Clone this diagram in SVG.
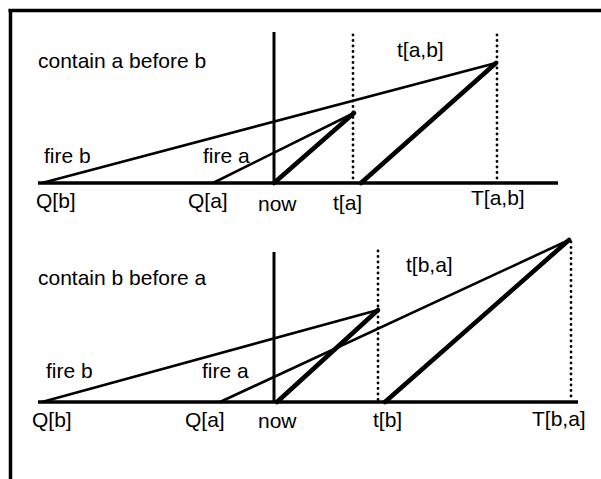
<svg xmlns="http://www.w3.org/2000/svg" width="601" height="479" viewBox="0 0 601 479">
<style>
text{font-family:"Liberation Sans",Arial,Helvetica,sans-serif;font-size:21px;fill:#000}
.ax{stroke:#000;stroke-width:3.5;fill:none}
.nw{stroke:#000;stroke-width:3;fill:none}
.th{stroke:#000;stroke-width:2.6;fill:none;stroke-linecap:round}
.tk{stroke:#000;stroke-width:4.6;fill:none;stroke-linecap:round}
.dt{stroke:#000;stroke-width:2.8;fill:none;stroke-dasharray:0 5.5;stroke-linecap:round}
.bd{stroke:#000;stroke-width:3.5;fill:none}
</style>
<rect width="601" height="479" fill="#fff"/>
<g id="frame">
<line class="bd" x1="8.5" y1="10.5" x2="601" y2="10.5"/>
<line class="bd" x1="10.5" y1="9" x2="10.5" y2="479"/>
</g>
<g id="connectors">
<line class="ax" x1="38" y1="183" x2="558" y2="183"/>
<line class="nw" x1="274" y1="32" x2="274" y2="183"/>
<line class="dt" x1="353" y1="35" x2="353" y2="181"/>
<line class="dt" x1="497" y1="35" x2="497" y2="181"/>
<line class="th" x1="42" y1="183" x2="496" y2="63"/>
<line class="th" x1="213" y1="183" x2="354" y2="113"/>
<line class="tk" x1="274" y1="183" x2="354" y2="113"/>
<line class="tk" x1="361" y1="183" x2="496" y2="63"/>
<line class="ax" x1="38" y1="402" x2="578" y2="402"/>
<line class="nw" x1="274" y1="252" x2="274" y2="402"/>
<line class="dt" x1="378" y1="251" x2="378" y2="400"/>
<line class="dt" x1="571" y1="242" x2="571" y2="400"/>
<line class="th" x1="42" y1="402" x2="378" y2="310"/>
<line class="th" x1="220" y1="402" x2="569" y2="240"/>
<line class="tk" x1="277" y1="402" x2="378" y2="310"/>
<line class="tk" x1="385" y1="402" x2="569" y2="240"/>
</g>
<g id="top-panel">
<text x="38" y="68">contain a before b</text>
<text x="397" y="57">t[a,b]</text>
<text x="44" y="163">fire b</text>
<text x="203" y="163">fire a</text>
<text x="36" y="208">Q[b]</text>
<text x="188" y="208">Q[a]</text>
<text x="258" y="211">now</text>
<text x="333" y="210">t[a]</text>
<text x="471" y="205">T[a,b]</text>
</g>
<g id="bottom-panel">
<text x="38" y="285">contain b before a</text>
<text x="406" y="272">t[b,a]</text>
<text x="46" y="378">fire b</text>
<text x="202" y="378">fire a</text>
<text x="32" y="427">Q[b]</text>
<text x="185" y="427">Q[a]</text>
<text x="258" y="428">now</text>
<text x="373" y="427">t[b]</text>
<text x="532" y="426">T[b,a]</text>
</g>
</svg>
